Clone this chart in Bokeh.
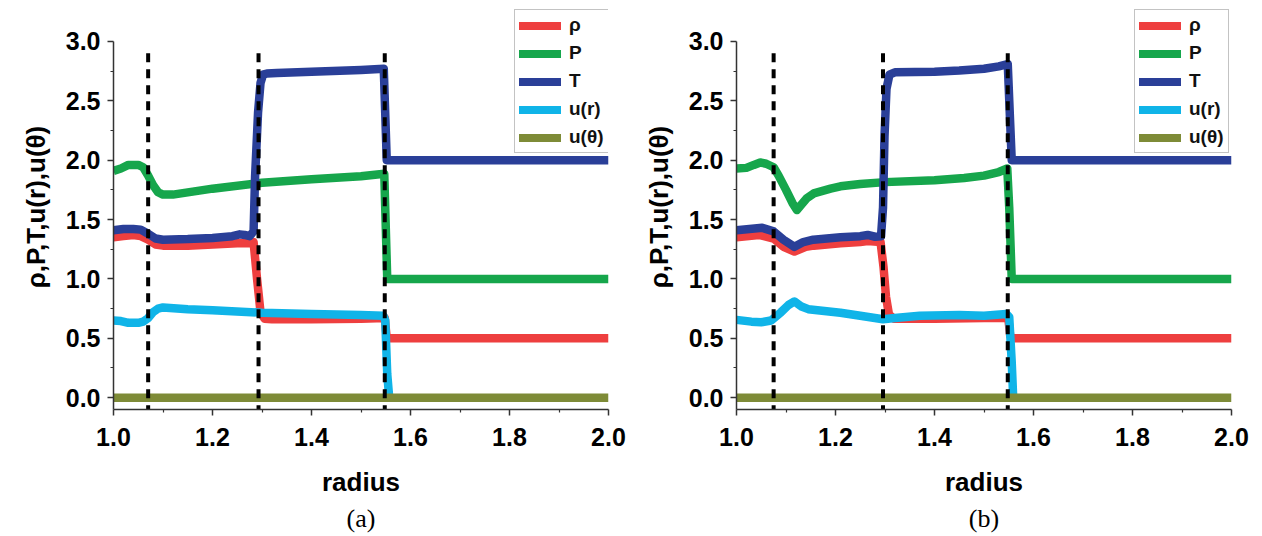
from bokeh.plotting import figure
from bokeh.layouts import row
from bokeh.models import Range1d, FixedTicker, PrintfTickFormatter, Legend, LegendItem, Title
from bokeh.embed import file_html
from bokeh.resources import INLINE

# ---------------- data ----------------
series_names = ["\u03c1", "P", "T", "u(r)", "u(\u03b8)"]
series_colors = ["#ee3f3f", "#16a64c", "#2a3f98", "#10b4e8", "#7e8b37"]

x_ticks = [1.0, 1.2, 1.4, 1.6, 1.8, 2.0]
x_minor = [1.1, 1.3, 1.5, 1.7, 1.9]
y_ticks = [0.0, 0.5, 1.0, 1.5, 2.0, 2.5, 3.0]
y_minor = [0.25, 0.75, 1.25, 1.75, 2.25, 2.75]

# panel (a)
a_rho_r = [1.0, 1.02, 1.04, 1.055, 1.07, 1.085, 1.10, 1.15, 1.20, 1.25, 1.27, 1.283, 1.29, 1.297, 1.305, 1.32, 1.40, 1.50, 1.548, 1.552, 2.0]
a_rho = [1.35, 1.36, 1.37, 1.36, 1.33, 1.29, 1.28, 1.28, 1.29, 1.30, 1.30, 1.31, 1.00, 0.72, 0.665, 0.66, 0.66, 0.665, 0.67, 0.50, 0.50]

a_P_r = [1.0, 1.015, 1.03, 1.05, 1.06, 1.07, 1.08, 1.09, 1.10, 1.12, 1.20, 1.30, 1.40, 1.50, 1.547, 1.553, 2.0]
a_P = [1.91, 1.93, 1.96, 1.96, 1.94, 1.87, 1.79, 1.73, 1.71, 1.71, 1.76, 1.81, 1.84, 1.865, 1.885, 1.00, 1.00]

a_T_r = [1.0, 1.02, 1.04, 1.055, 1.07, 1.085, 1.10, 1.15, 1.20, 1.24, 1.255, 1.265, 1.275, 1.283, 1.286, 1.292, 1.297, 1.302, 1.31, 1.33, 1.40, 1.50, 1.546, 1.552, 2.0]
a_T = [1.41, 1.42, 1.42, 1.415, 1.38, 1.34, 1.33, 1.335, 1.345, 1.36, 1.375, 1.37, 1.36, 1.40, 1.86, 2.40, 2.65, 2.72, 2.73, 2.735, 2.745, 2.76, 2.77, 2.00, 2.00]

a_ur_r = [1.0, 1.015, 1.03, 1.05, 1.06, 1.07, 1.08, 1.09, 1.10, 1.15, 1.20, 1.30, 1.40, 1.50, 1.545, 1.549, 1.553, 1.557]
a_ur = [0.65, 0.645, 0.63, 0.63, 0.64, 0.67, 0.72, 0.75, 0.76, 0.745, 0.735, 0.715, 0.705, 0.695, 0.69, 0.65, 0.20, 0.0]

a_ut_r = [1.0, 2.0]
a_ut = [0.0, 0.0]

a_shocks = [1.07, 1.293, 1.548]

# panel (b)
b_rho_r = [1.0, 1.045, 1.075, 1.095, 1.117, 1.14, 1.156, 1.21, 1.25, 1.265, 1.291, 1.297, 1.302, 1.308, 1.318, 1.40, 1.50, 1.549, 1.553, 1.557, 2.0]
b_rho = [1.35, 1.37, 1.34, 1.27, 1.23, 1.27, 1.28, 1.30, 1.31, 1.318, 1.31, 1.10, 0.85, 0.70, 0.665, 0.665, 0.67, 0.67, 0.52, 0.50, 0.50]

b_P_r = [1.0, 1.02, 1.035, 1.048, 1.06, 1.075, 1.085, 1.10, 1.113, 1.122, 1.13, 1.142, 1.156, 1.19, 1.21, 1.25, 1.30, 1.40, 1.46, 1.50, 1.53, 1.547, 1.551, 1.556, 2.0]
b_P = [1.93, 1.935, 1.96, 1.98, 1.97, 1.94, 1.87, 1.75, 1.64, 1.58, 1.62, 1.68, 1.72, 1.76, 1.78, 1.80, 1.815, 1.83, 1.85, 1.87, 1.90, 1.93, 1.60, 1.00, 1.00]

b_T_r = [1.0, 1.052, 1.075, 1.095, 1.117, 1.135, 1.155, 1.21, 1.25, 1.265, 1.28, 1.292, 1.296, 1.299, 1.303, 1.309, 1.32, 1.40, 1.45, 1.50, 1.53, 1.548, 1.553, 1.556, 2.0]
b_T = [1.41, 1.43, 1.40, 1.33, 1.27, 1.31, 1.33, 1.35, 1.36, 1.37, 1.355, 1.36, 1.60, 2.20, 2.60, 2.72, 2.74, 2.745, 2.755, 2.77, 2.79, 2.81, 2.30, 2.00, 2.00]

b_ur_r = [1.0, 1.03, 1.05, 1.07, 1.09, 1.105, 1.117, 1.13, 1.145, 1.21, 1.25, 1.296, 1.32, 1.37, 1.45, 1.50, 1.545, 1.551, 1.556, 1.559]
b_ur = [0.655, 0.64, 0.635, 0.65, 0.72, 0.78, 0.81, 0.77, 0.745, 0.715, 0.69, 0.66, 0.67, 0.69, 0.695, 0.69, 0.705, 0.68, 0.30, 0.0]

b_ut_r = [1.0, 2.0]
b_ut = [0.0, 0.0]

b_shocks = [1.075, 1.296, 1.548]


def make_panel(curves, shocks, tag, width, left, right, legend_xy):
    p = figure(width=width, height=536,
               x_range=Range1d(1.0, 2.0), y_range=Range1d(-0.1, 3.311),
               output_backend="svg", toolbar_location=None,
               min_border_left=left, min_border_right=right,
               min_border_top=4, min_border_bottom=127)
    p.outline_line_color = None
    p.xgrid.visible = False
    p.ygrid.visible = False

    for (xs, ys), col in zip(curves, series_colors):
        p.line(xs, ys, line_color=col, line_width=8.5, line_join="round")

    for s in shocks:
        p.segment(x0=[s], y0=[-0.14], x1=[s], y1=[2.95], line_color="black",
                  line_width=4, line_dash="9 7")

    # legend-only renderers (single point, draws nothing in the plot)
    items = []
    for name, col in zip(series_names, series_colors):
        r = p.line(x=[5.0], y=[5.0], line_color=col, line_width=8, line_cap="round")
        items.append(LegendItem(label=name, renderers=[r]))
    leg = Legend(items=items, location=legend_xy, margin=0, padding=4, spacing=6,
                 glyph_width=42, glyph_height=21, label_standoff=8,
                 label_text_font="Liberation Sans", label_text_font_style="bold",
                 label_text_font_size="19px", label_text_color="#111111",
                 border_line_color="#888888",
                 border_line_width=1.5, background_fill_color="white",
                 background_fill_alpha=1.0)
    p.add_layout(leg, "center")

    p.xaxis.ticker = FixedTicker(ticks=x_ticks, minor_ticks=x_minor)
    p.yaxis.ticker = FixedTicker(ticks=y_ticks, minor_ticks=y_minor)
    p.yaxis.bounds = (-0.1, 3.0)
    for ax in (p.xaxis[0], p.yaxis[0]):
        ax.formatter = PrintfTickFormatter(format="%.1f")
        ax.axis_line_color = "#333333"
        ax.axis_line_width = 1.5
        ax.major_tick_line_color = "#333333"
        ax.major_tick_line_width = 1.5
        ax.minor_tick_line_color = "#333333"
        ax.minor_tick_line_width = 1.2
        ax.major_tick_in = 0
        ax.major_tick_out = 6
        ax.minor_tick_in = 0
        ax.minor_tick_out = 3
        ax.major_label_text_font = "Liberation Sans"
        ax.major_label_text_font_style = "bold"
        ax.major_label_text_font_size = "25px"
        ax.major_label_text_color = "black"
        ax.axis_label_text_font = "Liberation Sans"
        ax.axis_label_text_font_style = "bold"
        ax.axis_label_text_font_size = "26px"
        ax.axis_label_text_color = "black"
    p.xaxis.axis_label = "radius"
    p.yaxis.axis_label = "\u03c1,P,T,u(r),u(\u03b8)"
    p.xaxis.major_label_standoff = 12
    p.yaxis.major_label_standoff = 7
    p.xaxis.axis_label_standoff = 18
    p.yaxis.axis_label_standoff = 12

    p.add_layout(Title(text=tag, align="center", text_font="Liberation Serif",
                       text_font_size="26px", text_font_style="normal",
                       text_color="black", standoff=4), "below")
    return p


pa = make_panel([(a_rho_r, a_rho), (a_P_r, a_P), (a_T_r, a_T), (a_ur_r, a_ur), (a_ut_r, a_ut)],
                a_shocks, "(a)", 636, 113, 28, (401, 256))
pb = make_panel([(b_rho_r, b_rho), (b_P_r, b_P), (b_T_r, b_T), (b_ur_r, b_ur), (b_ut_r, b_ut)],
                b_shocks, "(b)", 626, 100, 31, (398, 256))

layout = row(pa, pb)
open("out.html", "w").write(file_html(layout, INLINE))
